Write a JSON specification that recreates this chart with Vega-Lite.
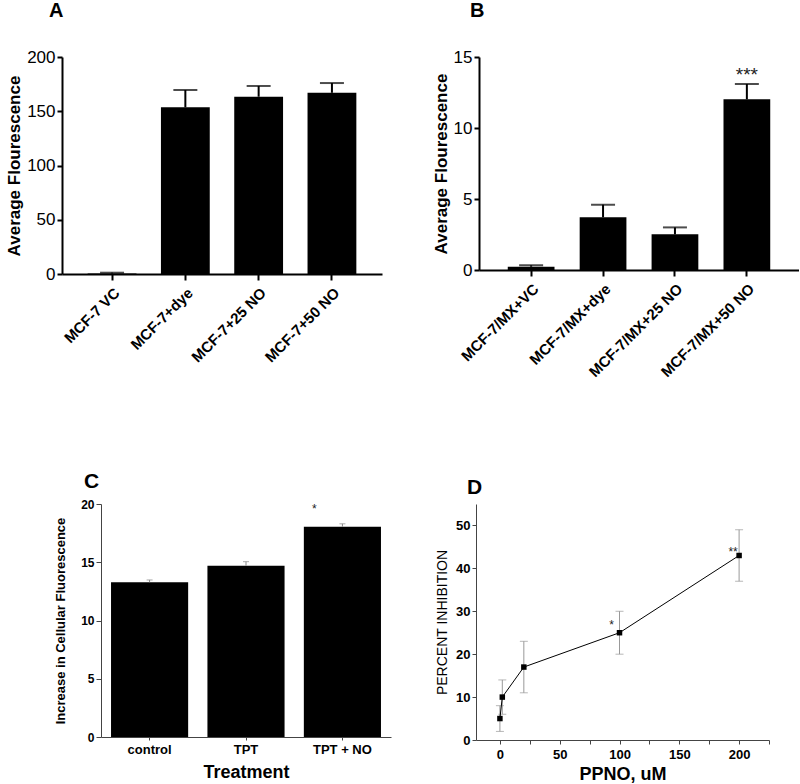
{
  "$schema": "https://vega.github.io/schema/vega-lite/v6.json",
  "padding": {"left": 5, "top": 1, "right": 0, "bottom": 0},
  "background": "white",
  "config": {
    "font": "Liberation Sans",
    "view": {"stroke": null},
    "axis": {"domainColor": "black", "tickColor": "black", "labelColor": "black", "titleColor": "black", "grid": false},
    "title": {"anchor": "start", "frame": "group", "fontSize": 20, "fontWeight": "bold", "color": "black"}
  },
  "datasets": {
    "a": [
      {"group": "MCF-7 VC", "value": 0.5, "upper": 1.2},
      {"group": "MCF-7+dye", "value": 153.6, "upper": 169.6},
      {"group": "MCF-7+25 NO", "value": 163.4, "upper": 173.3},
      {"group": "MCF-7+50 NO", "value": 167, "upper": 176}
    ],
    "b": [
      {"group": "MCF-7/MX+VC", "value": 0.23, "upper": 0.33, "sig": ""},
      {"group": "MCF-7/MX+dye", "value": 3.71, "upper": 4.6, "sig": ""},
      {"group": "MCF-7/MX+25 NO", "value": 2.51, "upper": 3.0, "sig": ""},
      {"group": "MCF-7/MX+50 NO", "value": 12.02, "upper": 13.1, "sig": "***"}
    ],
    "c": [
      {"group": "control", "value": 13.28, "upper": 13.48, "sig": ""},
      {"group": "TPT", "value": 14.7, "upper": 15.05, "sig": ""},
      {"group": "TPT + NO", "value": 18.05, "upper": 18.3, "sig": "*"}
    ],
    "d": [
      {"ppno": 0, "value": 5, "lower": 2, "upper": 8, "sig": ""},
      {"ppno": 2, "value": 10, "lower": 6, "upper": 14, "sig": ""},
      {"ppno": 20, "value": 17, "lower": 11, "upper": 23, "sig": ""},
      {"ppno": 100, "value": 25, "lower": 20, "upper": 30, "sig": "*"},
      {"ppno": 200, "value": 43, "lower": 37, "upper": 49, "sig": "**"}
    ]
  },
  "columns": 1,
  "align": "none",
  "spacing": 91,
  "concat": [
    {
      "spacing": 50,
      "hconcat": [
        {
          "title": {"text": "A", "dx": -13, "offset": 27},
          "width": 320,
          "height": 217,
          "data": {"name": "a"},
          "encoding": {
            "x": {"field": "group", "type": "nominal", "sort": null,
              "scale": {"paddingInner": 0.334, "paddingOuter": 0.35},
              "axis": {"title": null, "labelAngle": -45, "labelFontSize": 15, "labelFontWeight": "bold", "domainWidth": 2, "tickWidth": 2, "tickSize": 6, "labelPadding": 5}}
          },
          "layer": [
            {"mark": {"type": "bar", "color": "black"},
             "encoding": {"y": {"field": "value", "type": "quantitative", "scale": {"domain": [0, 200], "nice": false},
               "axis": {"title": "Average Flourescence", "values": [0, 50, 100, 150, 200], "labelFontSize": 17, "titleFontSize": 17, "titleFontWeight": "bold", "domainWidth": 2, "tickWidth": 2, "tickSize": 5, "titlePadding": 3}}}},
            {"mark": {"type": "rule", "color": "black", "strokeWidth": 2},
             "encoding": {"y": {"field": "value", "type": "quantitative", "scale": {"domain": [0, 200], "nice": false}}, "y2": {"field": "upper"}}},
            {"mark": {"type": "tick", "color": "black", "thickness": 2, "size": 24, "orient": "horizontal"},
             "encoding": {"y": {"field": "upper", "type": "quantitative", "scale": {"domain": [0, 200], "nice": false}}}}
          ]
        },
        {
          "title": {"text": "B", "dx": -9, "offset": 27},
          "width": 320,
          "height": 213,
          "data": {"name": "b"},
          "encoding": {
            "x": {"field": "group", "type": "nominal", "sort": null,
              "scale": {"paddingInner": 0.35, "paddingOuter": 0.4},
              "axis": {"title": null, "labelAngle": -45, "labelFontSize": 15, "labelFontWeight": "bold", "domainWidth": 2, "tickWidth": 2, "tickSize": 6, "labelPadding": 5}}
          },
          "layer": [
            {"mark": {"type": "bar", "color": "black"},
             "encoding": {"y": {"field": "value", "type": "quantitative", "scale": {"domain": [0, 15], "nice": false},
               "axis": {"title": "Average Flourescence", "values": [0, 5, 10, 15], "labelFontSize": 17, "titleFontSize": 17, "titleFontWeight": "bold", "domainWidth": 2, "tickWidth": 2, "tickSize": 5, "titlePadding": 3}}}},
            {"mark": {"type": "rule", "color": "black", "strokeWidth": 2},
             "encoding": {"y": {"field": "value", "type": "quantitative", "scale": {"domain": [0, 15], "nice": false}}, "y2": {"field": "upper"}}},
            {"mark": {"type": "tick", "color": "black", "thickness": 2, "size": 24, "orient": "horizontal"},
             "encoding": {"y": {"field": "upper", "type": "quantitative", "scale": {"domain": [0, 15], "nice": false}}}},
            {"transform": [{"filter": "datum.sig != ''"}],
             "mark": {"type": "text", "fontSize": 19, "dy": -3, "baseline": "alphabetic", "color": "#222"},
             "encoding": {"y": {"field": "upper", "type": "quantitative", "scale": {"domain": [0, 15], "nice": false}}, "text": {"field": "sig"}}}
          ]
        }
      ]
    },
    {
      "spacing": 44,
      "hconcat": [
        {
          "title": {"text": "C", "dx": 22, "offset": 6, "fontSize": 21},
          "width": 329,
          "height": 233,
          "data": {"name": "c"},
          "encoding": {
            "x": {"field": "group", "type": "nominal", "sort": null,
              "scale": {"range": [39, 329], "paddingInner": 0.2, "paddingOuter": 0.104},
              "axis": {"title": "Treatment", "labelAngle": 0, "labelFontSize": 13, "labelFontWeight": "bold", "titleFontSize": 18, "titleFontWeight": "bold", "tickSize": 3, "labelPadding": 3, "titlePadding": 7, "domainColor": "#444", "tickColor": "#444"}}
          },
          "layer": [
            {"mark": {"type": "bar", "color": "black"},
             "encoding": {"y": {"field": "value", "type": "quantitative", "scale": {"domain": [0, 20], "nice": false},
               "axis": {"title": "Increase in Cellular Fluorescence", "offset": -39, "values": [0, 2.5, 5, 7.5, 10, 12.5, 15, 17.5, 20],
                 "labelExpr": "datum.value % 5 === 0 ? datum.label : ''",
                 "labelFontSize": 12, "labelFontWeight": "bold", "titleFontSize": 13, "titleFontWeight": "bold", "tickSize": 5, "titlePadding": 13, "domainColor": "#444", "tickColor": "#444"}}}},
            {"mark": {"type": "rule", "color": "#888", "strokeWidth": 1},
             "encoding": {"y": {"field": "value", "type": "quantitative", "scale": {"domain": [0, 20], "nice": false}}, "y2": {"field": "upper"}}},
            {"mark": {"type": "tick", "color": "#888", "thickness": 1, "size": 6, "orient": "horizontal"},
             "encoding": {"y": {"field": "upper", "type": "quantitative", "scale": {"domain": [0, 20], "nice": false}}}},
            {"transform": [{"filter": "datum.sig != ''"}],
             "mark": {"type": "text", "fontSize": 12, "dy": -11, "dx": -28, "baseline": "alphabetic", "color": "#222"},
             "encoding": {"y": {"field": "upper", "type": "quantitative", "scale": {"domain": [0, 20], "nice": false}}, "text": {"field": "sig"}}}
          ]
        },
        {
          "title": {"text": "D", "dx": -9, "offset": 6, "fontSize": 21},
          "width": 293,
          "height": 236,
          "data": {"name": "d"},
          "encoding": {
            "x": {"field": "ppno", "type": "quantitative",
              "scale": {"domain": [-20, 225], "nice": false},
              "axis": {"title": "PPNO, uM", "values": [0, 25, 50, 75, 100, 125, 150, 175, 200, 225],
                "labelExpr": "datum.value % 50 === 0 ? datum.label : ''",
                "labelFontSize": 13, "labelFontWeight": "bold", "titleFontSize": 18, "titleFontWeight": "bold", "tickSize": 4, "labelPadding": 4, "titlePadding": 4, "domainColor": "#444", "tickColor": "#444"}}
          },
          "layer": [
            {"mark": {"type": "rule", "color": "#999", "strokeWidth": 1},
             "encoding": {"y": {"field": "lower", "type": "quantitative", "scale": {"domain": [0, 55], "nice": false},
               "axis": {"title": "PERCENT INHIBITION", "values": [0, 5, 10, 15, 20, 25, 30, 35, 40, 45, 50, 55],
                 "labelExpr": "datum.value % 10 === 0 ? datum.label : ''",
                 "labelFontSize": 13, "labelFontWeight": "bold", "titleFontSize": 14, "titleFontWeight": "normal", "tickSize": 4, "titlePadding": 6, "domainColor": "#444", "tickColor": "#444"}},
               "y2": {"field": "upper"}}},
            {"mark": {"type": "tick", "color": "#999", "thickness": 1, "size": 8, "orient": "horizontal"},
             "encoding": {"y": {"field": "lower", "type": "quantitative", "scale": {"domain": [0, 55], "nice": false}}}},
            {"mark": {"type": "tick", "color": "#999", "thickness": 1, "size": 8, "orient": "horizontal"},
             "encoding": {"y": {"field": "upper", "type": "quantitative", "scale": {"domain": [0, 55], "nice": false}}}},
            {"mark": {"type": "line", "color": "black", "strokeWidth": 1},
             "encoding": {"y": {"field": "value", "type": "quantitative", "scale": {"domain": [0, 55], "nice": false}}}},
            {"mark": {"type": "point", "shape": "square", "filled": true, "color": "black", "size": 30, "opacity": 1},
             "encoding": {"y": {"field": "value", "type": "quantitative", "scale": {"domain": [0, 55], "nice": false}}}},
            {"transform": [{"filter": "datum.sig == '*'"}],
             "mark": {"type": "text", "fontSize": 12, "dy": -4, "dx": -8, "baseline": "alphabetic", "color": "#222"},
             "encoding": {"y": {"field": "value", "type": "quantitative", "scale": {"domain": [0, 55], "nice": false}}, "text": {"field": "sig"}}},
            {"transform": [{"filter": "datum.sig == '**'"}],
             "mark": {"type": "text", "fontSize": 12, "dy": 1, "dx": -6, "baseline": "alphabetic", "color": "#222"},
             "encoding": {"y": {"field": "value", "type": "quantitative", "scale": {"domain": [0, 55], "nice": false}}, "text": {"field": "sig"}}}
          ]
        }
      ]
    }
  ]
}
